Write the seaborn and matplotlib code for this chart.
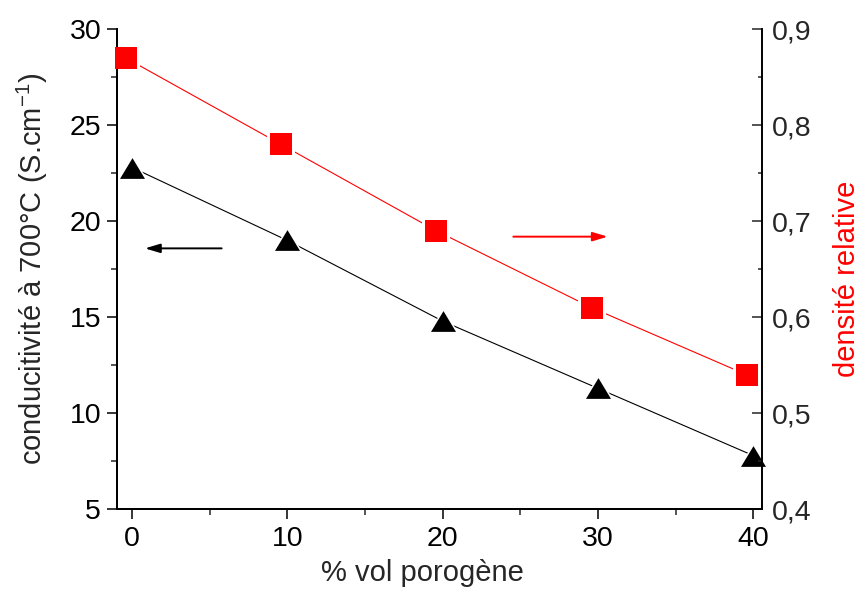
import numpy as np
import pandas as pd
import matplotlib
matplotlib.use("Agg")
import matplotlib.pyplot as plt
import seaborn as sns
from matplotlib.ticker import MultipleLocator, FixedLocator, FixedFormatter

# ---- data ----
porogen_cond = [0, 10, 20, 30, 40]
conductivity = [22.8, 19.0, 14.8, 11.3, 7.8]
porogen_dens = [-0.4, 9.6, 19.6, 29.6, 39.6]
density = [0.87, 0.78, 0.69, 0.61, 0.54]

x_ticks = [0, 10, 20, 30, 40]
x_tick_labels = ["0", "10", "20", "30", "40"]
left_ticks = [5, 10, 15, 20, 25, 30]
left_tick_labels = ["5", "10", "15", "20", "25", "30"]
right_ticks = [0.4, 0.5, 0.6, 0.7, 0.8, 0.9]
right_tick_labels = ["0,4", "0,5", "0,6", "0,7", "0,8", "0,9"]

x_label = "% vol porogène"
left_label = "conducitivité à 700°C (S.cm$^{\\mathregular{-1}}$)"
right_label = "densité relative"

# ---- style ----
sns.set_style("ticks")
plt.rcParams["font.family"] = ["Liberation Sans", "DejaVu Sans"]
plt.rcParams["mathtext.fontset"] = "custom"
plt.rcParams["mathtext.rm"] = "Liberation Sans"
plt.rcParams["mathtext.it"] = "Liberation Sans"
plt.rcParams["axes.unicode_minus"] = False

RED = "#ff0000"
FS_TICK = 20.5
FS_LAB = 21

fig = plt.figure(figsize=(8.62, 5.90), dpi=100)
ax = fig.add_axes([0.13538, 0.13678, 0.74826, 0.81356])
ax2 = ax.twinx()

tri = [(-1, -0.83), (1, -0.83), (0, 0.83), (-1, -0.83)]

df_c = pd.DataFrame({"x": porogen_cond, "y": conductivity})
df_d = pd.DataFrame({"x": porogen_dens, "y": density})

# conductivity (black triangles)
sns.lineplot(data=df_c, x="x", y="y", ax=ax, color="black", lw=0.8, zorder=2.1)
sns.lineplot(data=df_c, x="x", y="y", ax=ax, linestyle="none", marker=tri,
             markersize=23, color="white", markeredgewidth=0, zorder=2.2, clip_on=False)
sns.lineplot(data=df_c, x="x", y="y", ax=ax, linestyle="none", marker=tri,
             markersize=18, color="black", markeredgewidth=0, zorder=3, clip_on=False)

# density (red squares)
sns.lineplot(data=df_d, x="x", y="y", ax=ax2, color=RED, lw=0.8, zorder=2.1)
sns.lineplot(data=df_d, x="x", y="y", ax=ax2, linestyle="none", marker="s",
             markersize=19.5, color="white", markeredgewidth=0, zorder=2.2, clip_on=False)
sns.lineplot(data=df_d, x="x", y="y", ax=ax2, linestyle="none", marker="s",
             markersize=15.5, color=RED, markeredgewidth=0, zorder=3, clip_on=False)

# limits
ax.set_xlim(-1.0, 40.55)
ax.set_ylim(5, 30)
ax2.set_ylim(0.4, 0.9)

# ticks
ax.xaxis.set_major_locator(FixedLocator(x_ticks))
ax.xaxis.set_major_formatter(FixedFormatter(x_tick_labels))
ax.xaxis.set_minor_locator(MultipleLocator(5))
ax.yaxis.set_major_locator(FixedLocator(left_ticks))
ax.yaxis.set_major_formatter(FixedFormatter(left_tick_labels))
ax.yaxis.set_minor_locator(MultipleLocator(2.5))
ax2.yaxis.set_major_locator(FixedLocator(right_ticks))
ax2.yaxis.set_major_formatter(FixedFormatter(right_tick_labels))
ax2.yaxis.set_minor_locator(MultipleLocator(0.05))

ax.tick_params(axis="both", which="major", direction="out", length=7.2, width=1.1,
               labelsize=FS_TICK, colors="black")
ax.tick_params(axis="both", which="minor", direction="out", length=4.0, width=1.1)
ax.tick_params(axis="y", which="major", pad=4)
ax.tick_params(axis="x", which="major", pad=4.5)
ax.tick_params(left=True, right=False, top=False, bottom=True)
ax2.tick_params(axis="y", which="major", direction="in", length=7.2, width=1.1,
                labelsize=FS_TICK, pad=7.5)
ax2.tick_params(axis="y", which="minor", direction="in", length=3.2, width=1.1)

for a in (ax, ax2):
    a.spines["top"].set_visible(False)
    for s in ("left", "right", "bottom"):
        a.spines[s].set_linewidth(1.4)
        a.spines[s].set_color("black")
ax.spines["right"].set_visible(False)

# labels
ax.set_xlabel(x_label, fontsize=FS_LAB)
ax.xaxis.set_label_coords(0.474, -0.1035)
ax.set_ylabel(left_label, fontsize=FS_LAB)
ax.yaxis.set_label_coords(-0.104, 0.5)
ax2.set_ylabel(right_label, fontsize=FS_LAB, color=RED, rotation=90)
ax2.yaxis.set_label_coords(1.1105, 0.48)

# arrows
ax.annotate("", xy=(0.82, 18.59), xytext=(5.76, 18.59),
            arrowprops=dict(arrowstyle="-|>,head_length=0.6,head_width=0.18",
                            color="black", lw=1.4, shrinkA=0, shrinkB=0,
                            mutation_scale=15))
ax2.annotate("", xy=(30.63, 0.684), xytext=(24.55, 0.684),
             arrowprops=dict(arrowstyle="-|>,head_length=0.6,head_width=0.18",
                             color=RED, lw=1.4, shrinkA=0, shrinkB=0,
                             mutation_scale=15))

fig.savefig("out.png", dpi=100)
